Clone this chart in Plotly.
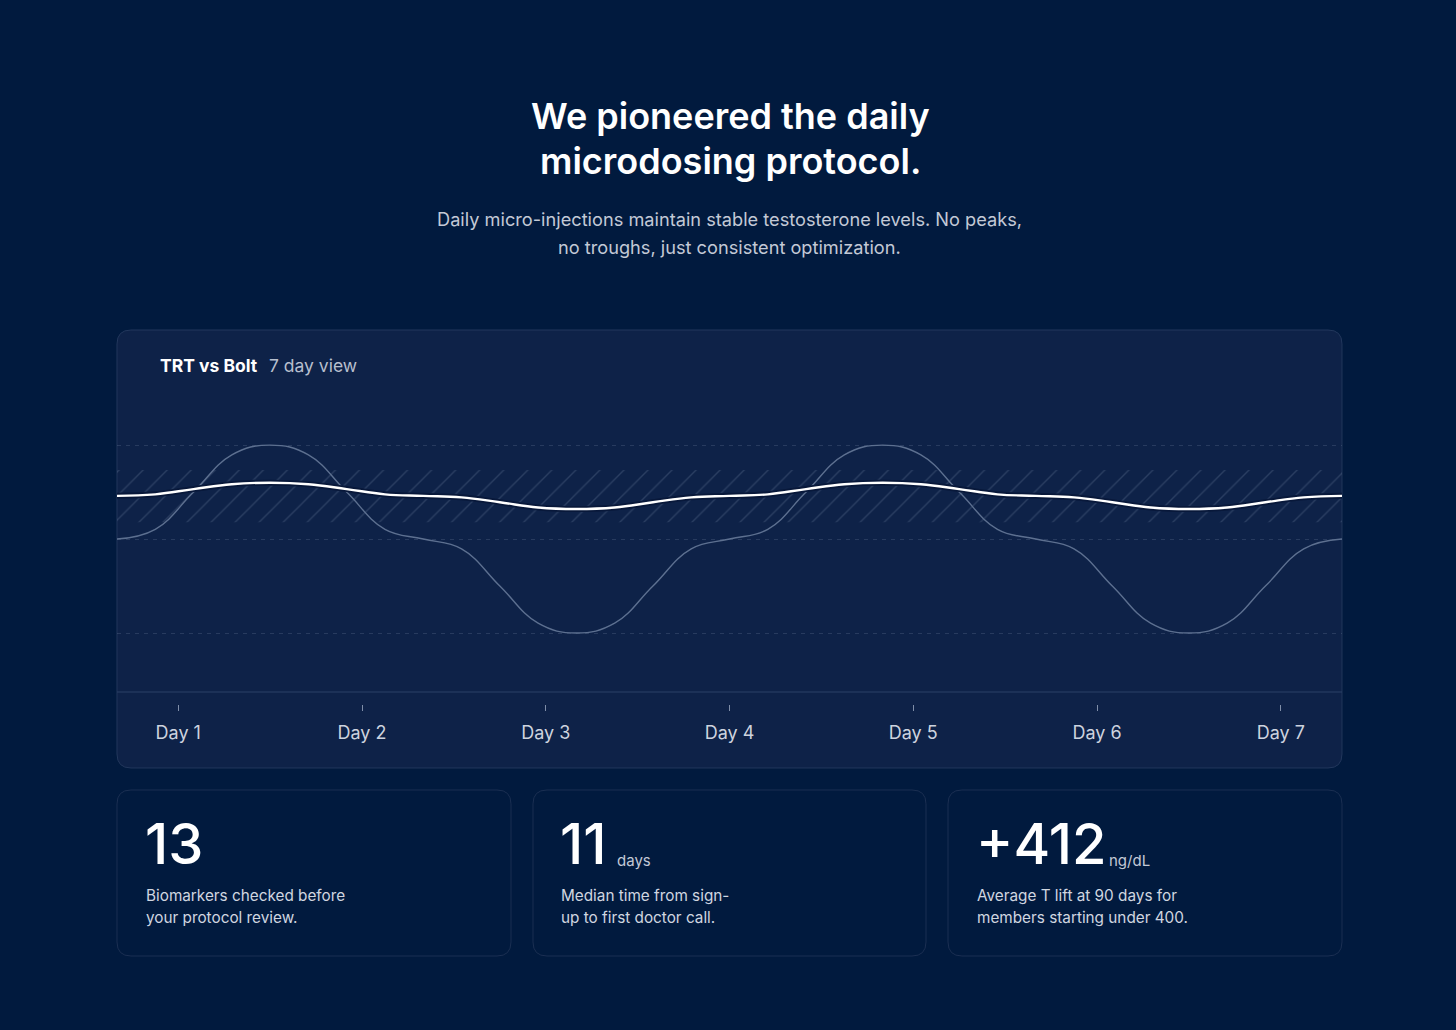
import plotly.graph_objects as go

# --- data ---
hours = list(range(0, 165, 5))  # 7 day view, sampled every 5 h

trt_level = [50, 52.6, 62.5, 72.4, 75, 72.4, 62.5, 52.6, 50, 47.4, 37.5, 27.6, 25, 27.6, 37.5, 47.4,
             50, 52.6, 62.5, 72.4, 75, 72.4, 62.5, 52.6, 50, 47.4, 37.5, 27.6, 25, 27.6, 37.5, 47.4, 50]
bolt_level = [61.5, 61.9, 63.3, 64.6, 65, 64.6, 63.3, 61.9, 61.5, 61.1, 59.8, 58.4, 58, 58.4, 59.8, 61.1,
              61.5, 61.9, 63.3, 64.6, 65, 64.6, 63.3, 61.9, 61.5, 61.1, 59.8, 58.4, 58, 58.4, 59.8, 61.1, 61.5]

band_low = 54.5
band_high = 68.4
guide_levels = [25, 50, 75]

day_ticks = [8, 32, 56, 80, 104, 128, 152]
day_labels = ["Day 1", "Day 2", "Day 3", "Day 4", "Day 5", "Day 6", "Day 7"]

stat_values = ["13", "11", "+412"]
stat_units = ["", "days", "ng/dL"]
stat_notes = [["Biomarkers checked before", "your protocol review."],
              ["Median time from sign-", "up to first doctor call."],
              ["Average T lift at 90 days for", "members starting under 400."]]

# --- page geometry (pixels) ---
W, H = 1456, 1030
PAGE = "#011a3e"
CARD = "#0e2248"
FONT = "Inter"


def px(x):
    return x / W


def py(y):
    return 1 - y / H


def rounded_rect(x0, y0, x1, y1, r):
    # rounded rectangle path in paper coords, from pixel corners
    pts = [
        ("M", x0 + r, y0), ("L", x1 - r, y0), ("Q", x1, y0, x1, y0 + r),
        ("L", x1, y1 - r), ("Q", x1, y1, x1 - r, y1), ("L", x0 + r, y1),
        ("Q", x0, y1, x0, y1 - r), ("L", x0, y0 + r), ("Q", x0, y0, x0 + r, y0),
    ]
    out = []
    for p in pts:
        cmd, vals = p[0], p[1:]
        coords = []
        for i in range(0, len(vals), 2):
            coords.append(f"{px(vals[i]):.5f},{py(vals[i + 1]):.5f}")
        out.append(cmd + " " + " ".join(coords))
    return " ".join(out) + " Z"


fig = go.Figure()

# hatched target band
fig.add_trace(go.Scatter(x=[hours[0], hours[-1]], y=[band_low, band_low], mode="lines",
                         line=dict(width=0), hoverinfo="skip", showlegend=False))
fig.add_trace(go.Scatter(x=[hours[0], hours[-1]], y=[band_high, band_high], mode="lines",
                         line=dict(width=0), fill="tonexty", fillcolor="rgba(0,0,0,0)",
                         fillpattern=dict(shape="/", fgcolor="rgba(170,185,210,0.38)",
                                          bgcolor="rgba(0,0,0,0)", size=17, solidity=0.08),
                         hoverinfo="skip", showlegend=False))

# TRT: big swings between injections
fig.add_trace(go.Scatter(x=hours, y=trt_level, mode="lines", name="TRT",
                         line=dict(color="#5d7090", width=1.4, shape="spline", smoothing=1.2),
                         showlegend=False))

# Bolt: daily microdosing, stable
fig.add_trace(go.Scatter(x=hours, y=bolt_level, mode="lines", hoverinfo="skip",
                         line=dict(color="#08183a", width=6, shape="spline", smoothing=1.2),
                         showlegend=False))
fig.add_trace(go.Scatter(x=hours, y=bolt_level, mode="lines", name="Bolt",
                         line=dict(color="#ffffff", width=2.4, shape="spline", smoothing=1.2),
                         showlegend=False))

shapes = [
    dict(type="path", path=rounded_rect(117, 330, 1342, 768, 14), xref="paper", yref="paper",
         fillcolor=CARD, line=dict(color="#22375c", width=1), layer="below"),
    dict(type="line", x0=px(117), x1=px(1342), y0=py(692), y1=py(692), xref="paper", yref="paper",
         line=dict(color="#2b4066", width=1.2), layer="below"),
]
for x0, x1 in [(117, 511), (533, 926), (948, 1342)]:
    shapes.append(dict(type="path", path=rounded_rect(x0, 790, x1, 956, 14), xref="paper", yref="paper",
                       fillcolor=PAGE, line=dict(color="#1b2f52", width=1), layer="below"))

annotations = [
    dict(text="We pioneered the daily", x=px(730), y=py(116), font=dict(size=36, color="white", weight=600)),
    dict(text="microdosing protocol.", x=px(730), y=py(161), font=dict(size=36, color="white", weight=600)),
    dict(text="Daily micro-injections maintain stable testosterone levels. No peaks,", x=px(729), y=py(219),
         font=dict(size=18.2, color="#c3c9d6")),
    dict(text="no troughs, just consistent optimization.", x=px(729), y=py(247),
         font=dict(size=18.2, color="#c3c9d6")),
    dict(text="TRT vs Bolt", x=px(158), y=py(365), xanchor="left",
         font=dict(size=17.5, color="white", weight=700)),
    dict(text="7 day view", x=px(267), y=py(365), xanchor="left",
         font=dict(size=17.5, color="#b7bfce")),
]

num_x = [143, 558, 974]
unit_x = [0, 615, 1107]
note_x = [144, 559, 975]
for i in range(3):
    annotations.append(dict(text=stat_values[i], x=px(num_x[i]), y=py(844), xanchor="left",
                            font=dict(size=56, color="white", weight=500)))
    if stat_units[i]:
        annotations.append(dict(text=stat_units[i], x=px(unit_x[i]), y=py(860), xanchor="left",
                                font=dict(size=15, color="#c3c9d6")))
    for j, line in enumerate(stat_notes[i]):
        annotations.append(dict(text=line, x=px(note_x[i]), y=py(895 + 22 * j), xanchor="left",
                                font=dict(size=15.3, color="#d0d6e0")))

for a in annotations:
    a.update(xref="paper", yref="paper", showarrow=False)
    a.setdefault("xanchor", "center")
    a["yanchor"] = "middle"

fig.update_layout(
    width=W, height=H,
    margin=dict(l=0, r=0, t=0, b=0),
    paper_bgcolor=PAGE, plot_bgcolor="rgba(0,0,0,0)",
    font=dict(family=FONT, color="white"),
    shapes=shapes, annotations=annotations,
    xaxis=dict(domain=[px(117), px(1342)], range=[0, 160], anchor="free", position=py(704),
               tickvals=day_ticks, ticktext=day_labels, ticks="outside", ticklen=6,
               tickcolor="#7f8ea8", tickwidth=1, ticklabelstandoff=6,
               tickfont=dict(size=18, color="#cdd3df", family=FONT),
               showgrid=False, zeroline=False, showline=False, fixedrange=True),
    yaxis=dict(domain=[py(692), py(400)], range=[9.3, 87.0], tickvals=guide_levels,
               showticklabels=False, gridcolor="rgba(160,175,200,0.18)", griddash="4px,5px",
               gridwidth=1, zeroline=False, showline=False, fixedrange=True),
)

fig.write_html("out.html", config=dict(displayModeBar=False),
               post_script="document.body.style.margin='0';document.body.style.background='#011a3e';"
                           "document.body.style.overflow='hidden';")
